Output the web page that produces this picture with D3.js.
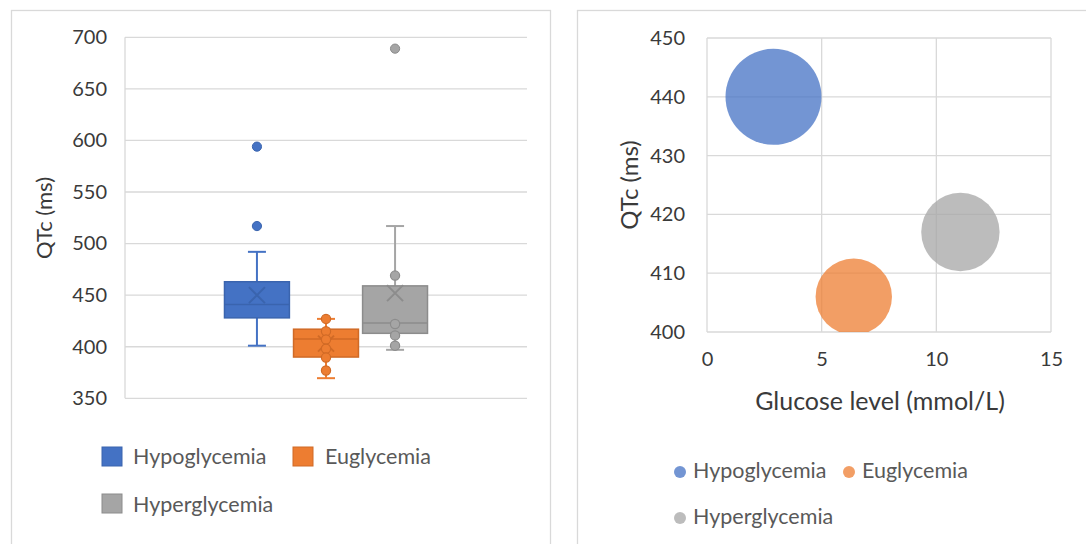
<!DOCTYPE html>
<html>
<head>
<meta charset="utf-8">
<script src="https://cdn.jsdelivr.net/npm/d3@7"></script>
<style>
  body { margin: 0; background: #fff; }
  text { font-family: Lato, "Open Sans", sans-serif; }
</style>
</head>
<body>
<svg id="chart" width="1086" height="544"></svg>
<script>
// ---- Box plot: QTc by glycemic group ----
const groups = ["Hypoglycemia", "Euglycemia", "Hyperglycemia"];
const groupColors = ["#4472C4", "#ED7D31", "#A5A5A5"];
const groupDark = ["#3A64AE", "#D06A26", "#8C8C8C"];
const q1 = [428, 390, 413];
const medians = [441, 407.5, 423];
const q3 = [463, 417, 459];
const whiskerLow = [401, 369.5, 397];
const whiskerHigh = [492, 427, 517];
const means = [450, 403, 452];
const innerPoints = [[], [427, 415, 407, 398, 389.5, 377], [469, 422, 411, 401]];
const outliers = [[594, 517], [], [689]];
const qtcTicks = [350, 400, 450, 500, 550, 600, 650, 700];

// ---- Bubble chart: mean QTc vs glucose level ----
const glucose = [2.9, 6.4, 11.05];
const qtcMean = [440, 406, 417];
const bubbleSize = [30, 19, 20];
const glucoseTicks = [0, 5, 10, 15];
const bubbleQtcTicks = [400, 410, 420, 430, 440, 450];

const svg = d3.select("#chart");
const tickSize = 20;
const legendSize = 21.5;
const gridColor = "#D9D9D9";
const textColor = "#3A3A3A";
const legendColor = "#595959";

// panel frames
svg.append("rect").attr("x", 11.5).attr("y", 10.5).attr("width", 539).attr("height", 560)
  .attr("fill", "none").attr("stroke", gridColor).attr("stroke-width", 1.3);
svg.append("rect").attr("x", 577.5).attr("y", 10.5).attr("width", 540).attr("height", 560)
  .attr("fill", "none").attr("stroke", gridColor).attr("stroke-width", 1.3);

// ================= Left: box plot =================
const L = { left: 125, right: 527, top: 37.3, bottom: 398.3 };
const yL = d3.scaleLinear().domain([350, 700]).range([L.bottom, L.top]);
const x0 = d3.scaleBand().domain(["all"]).range([L.left, L.right]).paddingOuter(0.49).paddingInner(0);
const x1 = d3.scaleBand().domain(groups).range([0, x0.bandwidth()]).paddingInner(0.06);

const gL = svg.append("g");
// gridlines
gL.selectAll("line.grid").data(qtcTicks).join("line")
  .attr("x1", L.left).attr("x2", L.right)
  .attr("y1", d => yL(d)).attr("y2", d => yL(d))
  .attr("stroke", gridColor).attr("stroke-width", 1.3);
gL.append("line").attr("x1", L.left).attr("x2", L.left).attr("y1", L.top).attr("y2", L.bottom)
  .attr("stroke", gridColor).attr("stroke-width", 1.3);

// y axis labels
const axL = d3.axisLeft(yL).tickValues(qtcTicks).tickSize(0).tickPadding(0);
const axLg = gL.append("g").attr("transform", `translate(${L.left - 18},0)`).call(axL);
axLg.select(".domain").remove();
axLg.selectAll("text").attr("font-size", tickSize).attr("fill", textColor)
  .style("font-family", "Lato, sans-serif");

gL.append("text").attr("transform", `translate(43,218) rotate(-90)`)
  .attr("text-anchor", "middle").attr("dominant-baseline", "central")
  .attr("font-size", 22).attr("fill", textColor).text("QTc (ms)");

// boxes
groups.forEach((g, i) => {
  const bx = x0("all") + x1(g);
  const bw = x1.bandwidth();
  const cx = bx + bw / 2;
  const G = gL.append("g");
  const col = groupColors[i], dark = groupDark[i];
  // whiskers
  G.append("line").attr("x1", cx).attr("x2", cx).attr("y1", yL(q3[i])).attr("y2", yL(whiskerHigh[i]))
    .attr("stroke", col).attr("stroke-width", 2);
  G.append("line").attr("x1", cx).attr("x2", cx).attr("y1", yL(q1[i])).attr("y2", yL(whiskerLow[i]))
    .attr("stroke", col).attr("stroke-width", 2);
  [whiskerHigh[i], whiskerLow[i]].forEach(v => {
    G.append("line").attr("x1", cx - 9).attr("x2", cx + 9).attr("y1", yL(v)).attr("y2", yL(v))
      .attr("stroke", col).attr("stroke-width", 2);
  });
  // box
  G.append("rect").attr("x", bx).attr("y", yL(q3[i])).attr("width", bw)
    .attr("height", yL(q1[i]) - yL(q3[i]))
    .attr("fill", col).attr("stroke", dark).attr("stroke-width", 1.5);
  // median
  G.append("line").attr("x1", bx).attr("x2", bx + bw).attr("y1", yL(medians[i])).attr("y2", yL(medians[i]))
    .attr("stroke", dark).attr("stroke-width", 1.5);
  // mean marker
  const my = yL(means[i]), s = 8;
  G.append("path").attr("d", `M${cx - s},${my - s}L${cx + s},${my + s}M${cx - s},${my + s}L${cx + s},${my - s}`)
    .attr("stroke", dark).attr("stroke-width", 2).attr("fill", "none");
  // inner points
  G.selectAll("circle.inner").data(innerPoints[i]).join("circle")
    .attr("cx", cx).attr("cy", d => yL(d)).attr("r", 4.6)
    .attr("fill", col).attr("stroke", dark).attr("stroke-width", 1.2);
  // outliers
  G.selectAll("circle.out").data(outliers[i]).join("circle")
    .attr("cx", cx).attr("cy", d => yL(d)).attr("r", 4.6)
    .attr("fill", col).attr("stroke", dark).attr("stroke-width", 1);
});

// legend (left)
const legL = [
  { x: 102, y: 447, tx: 133, ty: 464 },
  { x: 293, y: 447, tx: 325, ty: 464 },
  { x: 102, y: 494, tx: 133, ty: 512 }
];
groups.forEach((g, i) => {
  const p = legL[i];
  svg.append("rect").attr("x", p.x).attr("y", p.y).attr("width", 20).attr("height", 19)
    .attr("fill", groupColors[i]).attr("stroke", groupDark[i]).attr("stroke-width", 1);
  svg.append("text").attr("x", p.tx).attr("y", p.ty).attr("font-size", legendSize)
    .attr("fill", legendColor).text(g);
});

// ================= Right: bubble chart =================
const R = { left: 707, right: 1051, top: 38, bottom: 332 };
const xR = d3.scaleLinear().domain([0, 15]).range([R.left, R.right]);
const yR = d3.scaleLinear().domain([400, 450]).range([R.bottom, R.top]);
const rR = d3.scaleSqrt().domain([0, 30]).range([0, 48]);

const gR = svg.append("g");
gR.selectAll("line.gy").data(bubbleQtcTicks).join("line")
  .attr("x1", R.left).attr("x2", R.right).attr("y1", d => yR(d)).attr("y2", d => yR(d))
  .attr("stroke", gridColor).attr("stroke-width", 1.3);
gR.selectAll("line.gx").data(glucoseTicks).join("line")
  .attr("x1", d => xR(d)).attr("x2", d => xR(d)).attr("y1", R.top).attr("y2", R.bottom)
  .attr("stroke", gridColor).attr("stroke-width", 1.3);

svg.append("defs").append("clipPath").attr("id", "plotR").append("rect")
  .attr("x", R.left).attr("y", R.top).attr("width", R.right - R.left).attr("height", R.bottom - R.top);

gR.append("g").attr("clip-path", "url(#plotR)")
  .selectAll("circle").data(groups).join("circle")
  .attr("cx", (d, i) => xR(glucose[i])).attr("cy", (d, i) => yR(qtcMean[i]))
  .attr("r", (d, i) => rR(bubbleSize[i]))
  .attr("fill", (d, i) => groupColors[i]).attr("fill-opacity", 0.75);

const axRy = gR.append("g").attr("transform", `translate(${R.left - 22},0)`)
  .call(d3.axisLeft(yR).tickValues(bubbleQtcTicks).tickSize(0).tickPadding(0));
axRy.select(".domain").remove();
axRy.selectAll("text").attr("font-size", tickSize).attr("fill", textColor).style("font-family", "Lato, sans-serif");

const axRx = gR.append("g").attr("transform", `translate(0,${R.bottom + 20})`)
  .call(d3.axisBottom(xR).tickValues(glucoseTicks).tickSize(0).tickPadding(0));
axRx.select(".domain").remove();
axRx.selectAll("text").attr("font-size", tickSize).attr("fill", textColor).style("font-family", "Lato, sans-serif");

gR.append("text").attr("x", 880).attr("y", 410).attr("text-anchor", "middle")
  .attr("font-size", 25).attr("fill", textColor).text("Glucose level (mmol/L)");
gR.append("text").attr("transform", `translate(628,185) rotate(-90)`)
  .attr("text-anchor", "middle").attr("dominant-baseline", "central")
  .attr("font-size", 24).attr("fill", textColor).text("QTc (ms)");

// legend (right)
const legR = [
  { cx: 680, cy: 472, tx: 693, ty: 478 },
  { cx: 849, cy: 472, tx: 862, ty: 478 },
  { cx: 680, cy: 518, tx: 693, ty: 524 }
];
groups.forEach((g, i) => {
  const p = legR[i];
  svg.append("circle").attr("cx", p.cx).attr("cy", p.cy).attr("r", 6)
    .attr("fill", groupColors[i]).attr("fill-opacity", 0.75);
  svg.append("text").attr("x", p.tx).attr("y", p.ty).attr("font-size", legendSize)
    .attr("fill", legendColor).text(g);
});
</script>
</body>
</html>
